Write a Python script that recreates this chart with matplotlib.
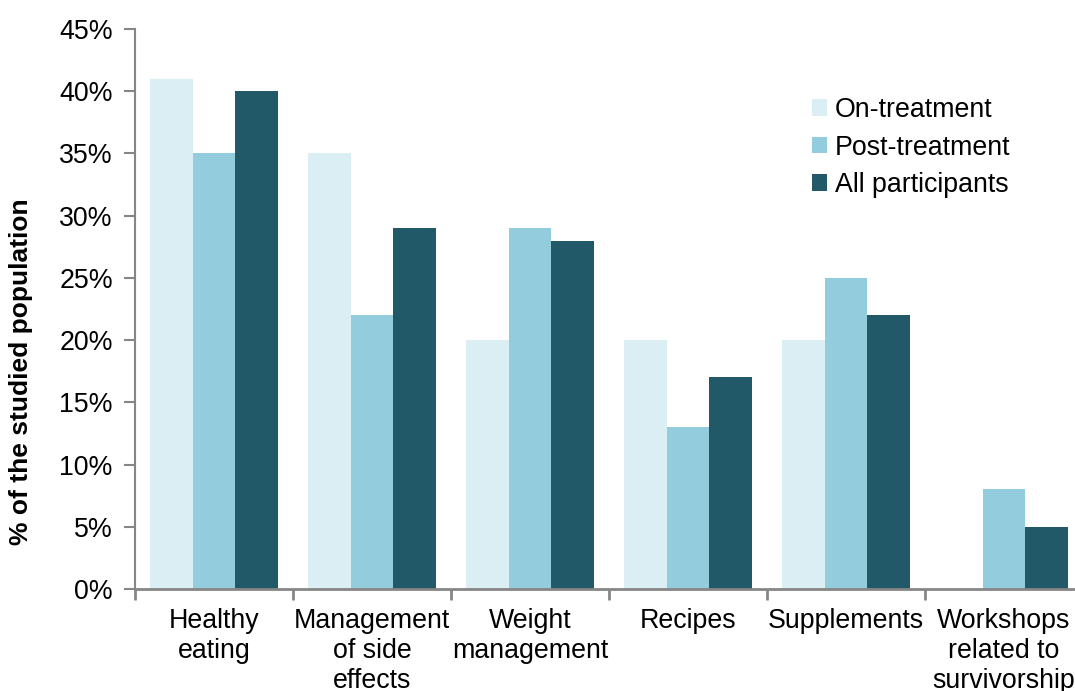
import matplotlib
matplotlib.use("Agg")
import matplotlib.pyplot as plt
import numpy as np

categories = ["Healthy\neating", "Management\nof side\neffects", "Weight\nmanagement",
              "Recipes", "Supplements", "Workshops\nrelated to\nsurvivorship"]
series_names = ["On-treatment", "Post-treatment", "All participants"]
on_treatment = [41, 35, 20, 20, 20, 0]
post_treatment = [35, 22, 29, 13, 25, 8]
all_participants = [40, 29, 28, 17, 22, 5]
yticks = [0, 5, 10, 15, 20, 25, 30, 35, 40, 45]

colors = ["#DBEEF4", "#93CDDD", "#215968"]

plt.rcParams['font.family'] = ['Liberation Sans', 'DejaVu Sans']

fig = plt.figure(figsize=(10.75, 6.91), dpi=100)
ax = fig.add_axes([135/1075, 102/691, 948/1075, 560/691])

x = np.arange(len(categories)) + 0.5
w = 0.272
for k, (vals, name) in enumerate(zip([on_treatment, post_treatment, all_participants], series_names)):
    ax.bar(x + (k - 1) * w, vals, width=w, color=colors[k], label=name, edgecolor='none')

ax.set_xlim(0, 6)
ax.set_ylim(0, 45)
ax.set_yticks(yticks)
ax.set_yticklabels([f"{v}%" for v in yticks], fontsize=19.3)
ax.set_xticks(np.arange(0, 7))
ax.set_xticklabels([])
ax.set_xticks(x, minor=True)
ax.set_xticklabels(categories, minor=True, fontsize=19.3, linespacing=1.2)
ax.tick_params(axis='x', which='minor', length=0, pad=14)
ax.tick_params(axis='x', which='major', length=8, width=2, color='#868686', direction='out')
ax.tick_params(axis='y', length=8, width=1.5, color='#868686', pad=8)

for s in ['top', 'right']:
    ax.spines[s].set_visible(False)
ax.spines['left'].set_color('#868686')
ax.spines['left'].set_linewidth(1.5)
ax.spines['bottom'].set_color('#868686')
ax.spines['bottom'].set_linewidth(2)

fig.text(21/1075, 1 - 372/691, "% of the studied population", rotation=90,
         fontsize=19, fontweight='bold', ha='center', va='center')

leg = ax.legend(loc='upper left', bbox_to_anchor=((812-135)/948, (589-97)/560),
                frameon=False, fontsize=19.3, handlelength=0.55, handleheight=0.55,
                handletextpad=0.3, labelspacing=0.43, borderpad=0, borderaxespad=0)

fig.savefig("out.png", dpi=100)
